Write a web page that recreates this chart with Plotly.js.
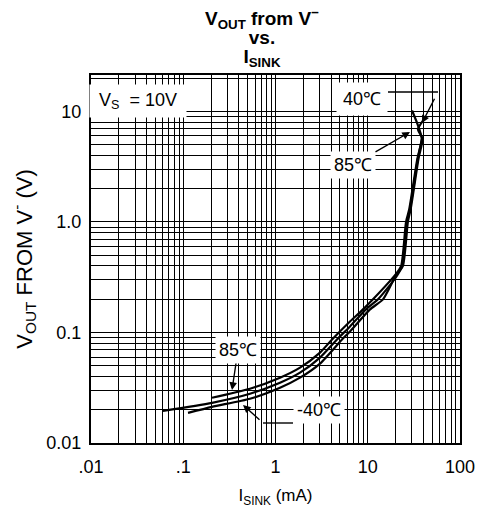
<!DOCTYPE html>
<html>
<head>
<meta charset="utf-8">
<script src="https://cdn.plot.ly/plotly-3.0.1.min.js"></script>
<style>html,body{margin:0;padding:0;background:#fff;}#chart{width:482px;height:508px;}</style>
</head>
<body>
<div id="chart"></div>
<script>
// Sink current (mA) and output voltage from V- (V) for each temperature
const isink_85 = [0.205, 0.529, 1.119, 1.844, 3.036, 4.10, 6.42, 8.66, 11.40, 19.74, 23.0, 26.0, 28.2, 34.5, 38.5, 35.0, 30.2];
const vout_85  = [0.0257, 0.0310, 0.0390, 0.0481, 0.0658, 0.0864, 0.1259, 0.1585, 0.1995, 0.330, 0.398, 1.0, 1.31, 3.74, 5.68, 7.5, 10.2];

const isink_25 = [0.0603, 0.205, 0.529, 1.119, 1.844, 3.036, 4.64, 6.42, 9.57, 12.92, 20.24, 23.5, 26.6, 28.7, 35.0, 38.7];
const vout_25  = [0.01954, 0.02311, 0.0279, 0.0351, 0.0433, 0.0593, 0.0864, 0.1134, 0.1619, 0.1995, 0.3162, 0.398, 1.0, 1.31, 3.74, 5.68];

const isink_m40 = [0.1126, 0.205, 0.529, 1.119, 1.844, 3.036, 5.26, 6.42, 10.58, 14.63, 20.24, 24.0, 27.2, 29.2, 35.5, 39.2, 35.0, 39.7];
const vout_m40  = [0.01874, 0.02125, 0.02512, 0.03162, 0.0390, 0.0523, 0.0864, 0.1021, 0.1619, 0.1995, 0.330, 0.398, 1.0, 1.31, 3.74, 5.68, 6.9, 8.28];

const xTickVals = [0.01, 0.1, 1, 10, 100];
const xTickText = ['.01', '.1', '1', '10', '100'];
const yTickVals = [0.01, 0.1, 1, 10];
const yTickText = ['0.01', '0.1', '1.0', '10'];
const gridMultipliers = [2, 3, 4, 5, 6, 7, 8, 9];

function minorVals(decades) {
  const v = [];
  decades.forEach(d => gridMultipliers.forEach(m => v.push(+(m * d).toPrecision(3))));
  return v;
}

const lineStyle = {color: '#000', width: 2.2, shape: 'spline', smoothing: 0.6};
const traces = [
  {x: isink_85, y: vout_85, mode: 'lines', line: lineStyle, name: '85℃', hoverinfo: 'skip'},
  {x: isink_25, y: vout_25, mode: 'lines', line: lineStyle, name: '25℃', hoverinfo: 'skip'},
  {x: isink_m40, y: vout_m40, mode: 'lines', line: lineStyle, name: '-40℃', hoverinfo: 'skip'}
];

const FONT = 'Liberation Sans, Arial, sans-serif';
function px(x) { return (x - 91) / 369; }
function py(y) { return (443 - y) / 368; }

const annFont = {family: FONT, size: 18, color: '#000'};
const arrowCommon = {showarrow: true, arrowhead: 2, arrowsize: 1.1, arrowwidth: 1.4, arrowcolor: '#000'};
const layout = {
  width: 482, height: 508,
  margin: {l: 91, r: 22, t: 75, b: 65},
  paper_bgcolor: '#fff', plot_bgcolor: '#fff',
  showlegend: false,
  font: {family: FONT, size: 15, color: '#000'},
  title: {
    text: '<span style="font-size:19px"><b>V<sub>OUT</sub> from V<sup>−</sup><br>vs.<br>I<sub>SINK</sub></b></span>',
    font: {family: FONT, size: 14.5, color: '#000'},
    x: 262 / 482, xanchor: 'center', xref: 'container',
    y: 0.95, yanchor: 'top', yref: 'container'
  },
  xaxis: {
    type: 'log', range: [-2, 2],
    tickmode: 'array', tickvals: xTickVals, ticktext: xTickText,
    ticks: '', ticklabelstandoff: 6, showgrid: true, gridcolor: '#000', gridwidth: 1,
    minor: {tickmode: 'array', tickvals: minorVals([0.01, 0.1, 1, 10]), showgrid: true, gridcolor: '#000', gridwidth: 1, ticks: ''},
    showline: true, mirror: true, linecolor: '#000', linewidth: 2,
    zeroline: false, tickfont: {family: FONT, size: 18, color: '#000'},
    title: {text: 'I<sub>SINK</sub> (mA)', font: {family: FONT, size: 17, color: '#000'}, standoff: 16}
  },
  yaxis: {
    type: 'log', range: [-2, 1.33],
    tickmode: 'array', tickvals: yTickVals, ticktext: yTickText,
    ticks: '', ticklabelstandoff: 4, showgrid: true, gridcolor: '#000', gridwidth: 1,
    minor: {tickmode: 'array', tickvals: minorVals([0.01, 0.1, 1, 10]), showgrid: true, gridcolor: '#000', gridwidth: 1, ticks: ''},
    showline: true, mirror: true, linecolor: '#000', linewidth: 2,
    zeroline: false, tickfont: {family: FONT, size: 18, color: '#000'},
    title: {text: 'V<sub>OUT</sub> FROM V<sup>-</sup> (V)', font: {family: FONT, size: 22, color: '#000'}, standoff: 8}
  },
  shapes: [
    {type: 'path', xref: 'paper', yref: 'paper',
     path: `M ${px(388)} ${py(92)} L ${px(438)} ${py(92)}`, line: {color: '#000', width: 1.4}},
    {type: 'path', xref: 'paper', yref: 'paper',
     path: `M ${px(293)} ${py(423)} L ${px(263)} ${py(423)}`, line: {color: '#000', width: 1.4}}
  ],
  annotations: [
    {xref: 'paper', yref: 'paper', x: px(138), y: py(101), text: 'V<sub>S</sub>  = 10V', showarrow: false,
     font: annFont, bgcolor: '#fff', width: 94, height: 30, xanchor: 'center', yanchor: 'middle'},
    {xref: 'paper', yref: 'paper', x: px(362), y: py(99), text: '40℃', showarrow: false,
     font: annFont, bgcolor: '#fff', width: 48, height: 30, xanchor: 'center', yanchor: 'middle'},
    Object.assign({xref: 'paper', yref: 'paper', x: px(422), y: py(123), text: ' ', ax: 16, ay: -31, standoff: 0, startstandoff: 0}, arrowCommon),
    Object.assign({xref: 'paper', yref: 'paper', x: px(410), y: py(132), text: '85℃', ax: -57, ay: 33,
     font: annFont, bgcolor: '#fff', borderpad: 3}, arrowCommon),
    Object.assign({xref: 'paper', yref: 'paper', x: px(232), y: py(390), text: '85℃', ax: 6, ay: -40,
     font: annFont, bgcolor: '#fff', borderpad: 3}, arrowCommon),
    {xref: 'paper', yref: 'paper', x: px(319), y: py(424), text: '-40℃', showarrow: false,
     font: annFont, bgcolor: '#fff', borderpad: 3},
    Object.assign({xref: 'paper', yref: 'paper', x: px(243), y: py(405), text: ' ', ax: 20, ay: 18, standoff: 0, startstandoff: 0}, arrowCommon)
  ]
};

Plotly.newPlot('chart', traces, layout, {staticPlot: true, displayModeBar: false});
</script>
</body>
</html>
